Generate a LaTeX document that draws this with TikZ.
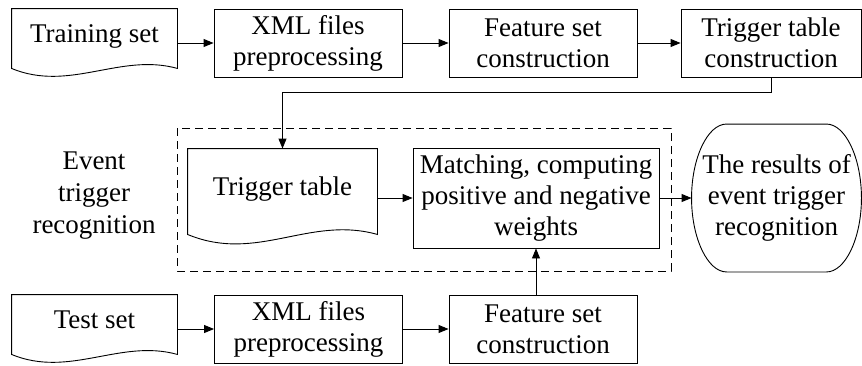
\documentclass[tikz,border=0pt]{standalone}
\usepackage{fontspec}
\setmainfont{Liberation Serif}
\usetikzlibrary{arrows.meta}

% document shape: straight top and sides, wavy bottom
\newcommand\docshape[2]{%
  \draw (#1.north west) -- (#1.north east) -- (#1.south east)
    .. controls +({-57*#2},{-16*#2}) and +({58*#2},{24*#2}) .. (#1.south west) -- cycle;}

\begin{document}
\begin{tikzpicture}[x=1pt, y=-1pt, >={Triangle[length=10pt,width=8pt]}, line width=0.9pt,
	every node/.style={font=\fontsize{27}{31}\selectfont, align=center, inner sep=0pt},
	box/.style={draw, minimum width=188pt, minimum height=68pt},
	doc/.style={minimum width=165pt, minimum height=59pt, text depth=10pt}]
	\useasboundingbox (0,0) rectangle (862,365);
	
	% ==================== top row: training set ====================
	\node[doc] (trainset) at (94.5,38.5) {Training set};
	\docshape{trainset}{1}
	\node[box] (xmltrain) at (308,43) {XML files\\preprocessing};
	\node[box] (feattrain) at (543,43) {Feature set\\construction};
	\node[box, minimum width=180pt] (trigcons) at (771,43) {Trigger table\\construction};
	
	\draw[->] (xmltrain.west -| trainset.east) -- (xmltrain.west);
	\draw[->] (xmltrain) -- (feattrain);
	\draw[->] (feattrain) -- (trigcons);
	
	% ==================== middle: event trigger recognition ====================
	\draw[dash pattern=on 8pt off 5pt] (177,128) rectangle (671,271);
	\node[font=\fontsize{27}{32}\selectfont] (recoglabel) at (94,196) {Event\\trigger\\recognition};
	
	\node[doc, minimum width=189pt, minimum height=85pt] (trigtable) at (282.5,191.5) {Trigger table};
	\docshape{trigtable}{1.2}
	\node[box, minimum width=246pt, minimum height=100pt] (matching) at (536,198) {Matching, computing\\positive and negative\\weights};
	
	% results: flat top/bottom, elliptic sides
	\node[minimum width=169pt, minimum height=147pt] (results) at (776.5,198) {The results of\\event trigger\\recognition};
	\draw ([xshift=35pt]results.north west) -- ([xshift=-35pt]results.north east)
		.. controls +(19,0) and +(0,-40) .. (results.east)
		.. controls +(0,40) and +(19,0) .. ([xshift=-35pt]results.south east)
		-- ([xshift=35pt]results.south west)
		.. controls +(-19,0) and +(0,40) .. (results.west)
		.. controls +(0,-40) and +(-19,0) .. cycle;
	
	\draw[->] (trigcons.south) -- ++(0,15) -| (trigtable.north);
	\draw[->] (matching.west -| trigtable.east) -- (matching.west);
	\draw[->] (matching) -- (results);
	
	% ==================== bottom row: test set ====================
	\node[doc] (testset) at (94.5,324.5) {Test set};
	\docshape{testset}{1}
	\node[box] (xmltest) at (308.5,329) {XML files\\preprocessing};
	\node[box] (feattest) at (543,329) {Feature set\\construction};
	
	\draw[->] (xmltest.west -| testset.east) -- (xmltest.west);
	\draw[->] (xmltest) -- (feattest);
	\draw[->] (matching.south |- feattest.north) -- (matching.south);
\end{tikzpicture}
\end{document}
